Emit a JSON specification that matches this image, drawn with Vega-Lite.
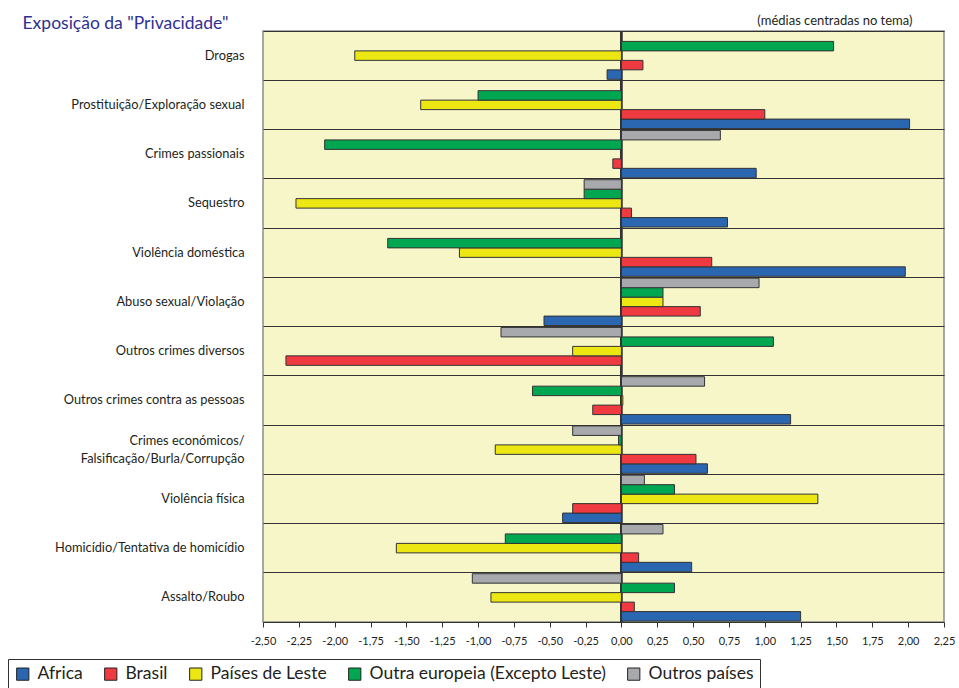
{
  "$schema": "https://vega.github.io/schema/vega-lite/v6.json",
  "width": 681,
  "height": 591,
  "autosize": {"type": "none"},
  "padding": {"left": 263, "top": 31, "right": 15, "bottom": 66},
  "background": "white",
  "config": {
    "view": {"stroke": "#8c8c8c", "strokeWidth": 1.5, "fill": "#f7f6c9"},
    "font": "Lato"
  },
  "data": {
    "values": [
      {"c": "Drogas", "g": "Africa", "v": -0.10},
      {"c": "Drogas", "g": "Brasil", "v": 0.15},
      {"c": "Drogas", "g": "Países de Leste", "v": -1.86},
      {"c": "Drogas", "g": "Outra europeia (Excepto Leste)", "v": 1.48},
      {"c": "Prostituição/Exploração sexual", "g": "Africa", "v": 2.01},
      {"c": "Prostituição/Exploração sexual", "g": "Brasil", "v": 1.00},
      {"c": "Prostituição/Exploração sexual", "g": "Países de Leste", "v": -1.40},
      {"c": "Prostituição/Exploração sexual", "g": "Outra europeia (Excepto Leste)", "v": -1.00},
      {"c": "Crimes passionais", "g": "Africa", "v": 0.94},
      {"c": "Crimes passionais", "g": "Brasil", "v": -0.06},
      {"c": "Crimes passionais", "g": "Outra europeia (Excepto Leste)", "v": -2.07},
      {"c": "Crimes passionais", "g": "Outros países", "v": 0.69},
      {"c": "Sequestro", "g": "Africa", "v": 0.74},
      {"c": "Sequestro", "g": "Brasil", "v": 0.07},
      {"c": "Sequestro", "g": "Países de Leste", "v": -2.27},
      {"c": "Sequestro", "g": "Outra europeia (Excepto Leste)", "v": -0.26},
      {"c": "Sequestro", "g": "Outros países", "v": -0.26},
      {"c": "Violência doméstica", "g": "Africa", "v": 1.98},
      {"c": "Violência doméstica", "g": "Brasil", "v": 0.63},
      {"c": "Violência doméstica", "g": "Países de Leste", "v": -1.13},
      {"c": "Violência doméstica", "g": "Outra europeia (Excepto Leste)", "v": -1.63},
      {"c": "Abuso sexual/Violação", "g": "Africa", "v": -0.54},
      {"c": "Abuso sexual/Violação", "g": "Brasil", "v": 0.55},
      {"c": "Abuso sexual/Violação", "g": "Países de Leste", "v": 0.29},
      {"c": "Abuso sexual/Violação", "g": "Outra europeia (Excepto Leste)", "v": 0.29},
      {"c": "Abuso sexual/Violação", "g": "Outros países", "v": 0.96},
      {"c": "Outros crimes diversos", "g": "Brasil", "v": -2.34},
      {"c": "Outros crimes diversos", "g": "Países de Leste", "v": -0.34},
      {"c": "Outros crimes diversos", "g": "Outra europeia (Excepto Leste)", "v": 1.06},
      {"c": "Outros crimes diversos", "g": "Outros países", "v": -0.84},
      {"c": "Outros crimes contra as pessoas", "g": "Africa", "v": 1.18},
      {"c": "Outros crimes contra as pessoas", "g": "Brasil", "v": -0.20},
      {"c": "Outros crimes contra as pessoas", "g": "Países de Leste", "v": 0.01},
      {"c": "Outros crimes contra as pessoas", "g": "Outra europeia (Excepto Leste)", "v": -0.62},
      {"c": "Outros crimes contra as pessoas", "g": "Outros países", "v": 0.58},
      {"c": "Crimes económicos/|Falsificação/Burla/Corrupção", "g": "Africa", "v": 0.60},
      {"c": "Crimes económicos/|Falsificação/Burla/Corrupção", "g": "Brasil", "v": 0.52},
      {"c": "Crimes económicos/|Falsificação/Burla/Corrupção", "g": "Países de Leste", "v": -0.88},
      {"c": "Crimes económicos/|Falsificação/Burla/Corrupção", "g": "Outra europeia (Excepto Leste)", "v": -0.02},
      {"c": "Crimes económicos/|Falsificação/Burla/Corrupção", "g": "Outros países", "v": -0.34},
      {"c": "Violência física", "g": "Africa", "v": -0.41},
      {"c": "Violência física", "g": "Brasil", "v": -0.34},
      {"c": "Violência física", "g": "Países de Leste", "v": 1.37},
      {"c": "Violência física", "g": "Outra europeia (Excepto Leste)", "v": 0.37},
      {"c": "Violência física", "g": "Outros países", "v": 0.16},
      {"c": "Homicídio/Tentativa de homicídio", "g": "Africa", "v": 0.49},
      {"c": "Homicídio/Tentativa de homicídio", "g": "Brasil", "v": 0.12},
      {"c": "Homicídio/Tentativa de homicídio", "g": "Países de Leste", "v": -1.57},
      {"c": "Homicídio/Tentativa de homicídio", "g": "Outra europeia (Excepto Leste)", "v": -0.81},
      {"c": "Homicídio/Tentativa de homicídio", "g": "Outros países", "v": 0.29},
      {"c": "Assalto/Roubo", "g": "Africa", "v": 1.25},
      {"c": "Assalto/Roubo", "g": "Brasil", "v": 0.09},
      {"c": "Assalto/Roubo", "g": "Países de Leste", "v": -0.91},
      {"c": "Assalto/Roubo", "g": "Outra europeia (Excepto Leste)", "v": 0.37},
      {"c": "Assalto/Roubo", "g": "Outros países", "v": -1.04}
    ]
  },
  "resolve": {"axis": {"x": "independent"}},
  "layer": [
    {
      "mark": {"type": "rule", "color": "#333333", "strokeWidth": 1.2},
      "encoding": {
        "x": {
          "datum": 0,
          "type": "quantitative",
          "axis": {
            "orient": "top",
            "labels": false,
            "ticks": false,
            "domain": false,
            "grid": false,
            "title": "(médias centradas no tema)",
            "titleFontSize": 13,
            "titleFontWeight": "normal",
            "titleColor": "#231f20",
            "titleAnchor": "end",
            "titleAlign": "right",
            "titleBaseline": "alphabetic",
            "titleX": 649,
            "titleY": -7
          }
        }
      }
    },
    {
      "mark": {"type": "bar", "stroke": "#333333", "strokeWidth": 1},
      "encoding": {
        "y": {
          "field": "c",
          "type": "nominal",
          "sort": null,
          "scale": {"paddingInner": 0, "paddingOuter": 0},
          "axis": {
            "title": "Exposição da \"Privacidade\"",
            "titleAngle": 0,
            "titleX": -241,
            "titleY": -3,
            "titleAlign": "left",
            "titleBaseline": "alphabetic",
            "titleFontSize": 17.5,
            "titleFontWeight": "normal",
            "titleColor": "#2e3192",
            "ticks": false,
            "domain": false,
            "grid": true,
            "bandPosition": 0,
            "gridColor": "#333333",
            "gridWidth": 1.2,
            "labelFontSize": 12.8,
            "labelColor": "#231f20",
            "labelPadding": 19,
            "labelLimit": 300,
            "labelLineHeight": 18,
            "labelOffset": {"condition": {"test": "indexof(datum.value, '|') >= 0", "value": -9}, "value": 0},
            "labelExpr": "split(datum.label, '|')"
          }
        },
        "yOffset": {
          "field": "g",
          "type": "nominal",
          "sort": ["Outros países", "Outra europeia (Excepto Leste)", "Países de Leste", "Brasil", "Africa"],
          "scale": {"domain": ["Outros países", "Outra europeia (Excepto Leste)", "Países de Leste", "Brasil", "Africa"], "paddingInner": 0, "paddingOuter": 0.1}
        },
        "x": {
          "field": "v",
          "type": "quantitative",
          "stack": null,
          "scale": {"domain": [-2.5, 2.25], "nice": false, "zero": false},
          "axis": {
            "orient": "bottom",
            "title": null,
            "grid": false,
            "values": [-2.5, -2.25, -2, -1.75, -1.5, -1.25, -1, -0.75, -0.5, -0.25, 0, 0.25, 0.5, 0.75, 1, 1.25, 1.5, 1.75, 2, 2.25],
            "labelExpr": "replace(replace(format(datum.value, '.2f'), '.', ','), '−', '-')",
            "labelFlush": false,
            "labelOverlap": false,
            "labelBound": false,
            "tickSize": 5,
            "tickColor": "#333333",
            "domainColor": "#333333",
            "labelFontSize": 11,
            "labelColor": "#231f20",
            "labelPadding": 8
          }
        },
        "color": {
          "field": "g",
          "type": "nominal",
          "scale": {
            "domain": ["Africa", "Brasil", "Países de Leste", "Outra europeia (Excepto Leste)", "Outros países"],
            "range": ["#2b66b1", "#ee3a40", "#ece712", "#00a650", "#a8a9ad"]
          },
          "legend": {
            "orient": "none",
            "legendX": -255,
            "legendY": 628,
            "direction": "horizontal",
            "columns": 5,
            "title": null,
            "symbolType": "square",
            "symbolSize": 150,
            "symbolStrokeColor": "#222222",
            "symbolStrokeWidth": 1,
            "labelFontSize": 17.5,
            "labelColor": "#231f20",
            "labelLimit": 400,
            "labelOffset": 6,
            "columnPadding": 19,
            "strokeColor": "#333333",
            "fillColor": "white",
            "padding": 6
          }
        }
      }
    }
  ]
}
